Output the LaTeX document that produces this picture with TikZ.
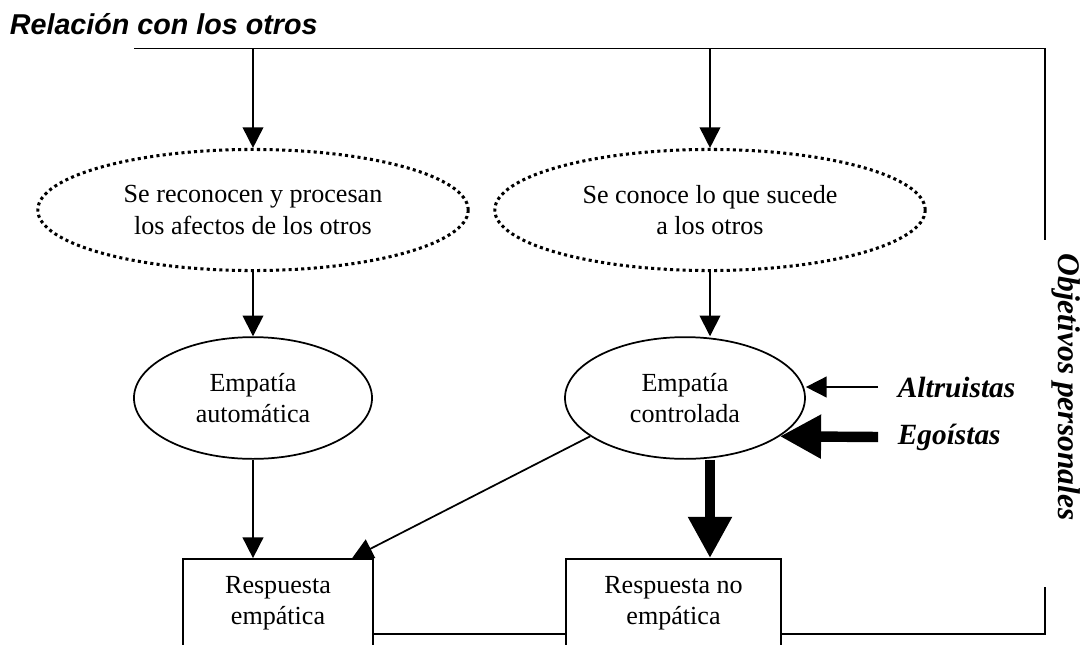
\documentclass[tikz,border=0pt]{standalone}
\usepackage{fontspec}
\setmainfont{Liberation Serif}
\newfontfamily\arialfont{Liberation Sans}
\usetikzlibrary{shapes.geometric,arrows.meta}

\begin{document}
\begin{tikzpicture}[x=0.46pt,y=-0.46pt,line width=0.8pt,
	txt/.style={align=center,font=\fontsize{12}{14.3}\selectfont,inner sep=0pt},
	dotell/.style={ellipse,draw,line width=1.4pt,dash pattern=on 1.4pt off 1.5pt,minimum width=198pt,minimum height=55.7pt,txt},
	ell/.style={ellipse,draw,minimum height=56pt,txt},
	resp/.style={rectangle,draw,minimum height=69pt},
	arr/.style={-{Triangle[length=9.5pt,width=9.5pt]}},
	bigarr/.style={line width=4.8pt,-{Triangle[length=19pt,width=19pt]}},
	objlab/.style={inner sep=0pt,font=\fontsize{13.5}{16}\selectfont\bfseries\itshape}]
	\useasboundingbox (0,0) rectangle (1083,644);
	\clip (0,0) rectangle (1083,644);

	\node[anchor=base west,inner sep=0pt,font=\arialfont\fontsize{13.2}{16}\selectfont\bfseries\itshape] (titulo) at (9,34) {Relación con los otros};

	\coordinate (topL) at (134,48.6);
	\coordinate (topR) at (1045,48.6);
	\coordinate (rgtU) at (1045,240);
	\coordinate (rgtD) at (1045,587);

	\node[dotell] (afect) at (253,210) {Se reconocen y procesan\\los afectos de los otros};
	\node[dotell] (sucede) at (710,210) {Se conoce lo que sucede\\a los otros};
	\node[ell,minimum width=109.5pt] (auto) at (253,398) {Empatía\\automática};
	\node[ell,minimum width=110.4pt] (contr) at (685,398) {Empatía\\controlada};
	\node[resp,minimum width=87.4pt] (remp) at (278,634) {};
	\node[resp,minimum width=99pt] (rnoemp) at (673.5,634) {};
	\node[txt] (rempt) at (278,603.5) {Respuesta\\empática};
	\node[txt] (rnoempt) at (673.5,603.5) {Respuesta no\\empática};
	\node[objlab,anchor=west] (altr) at (897,387) {Altruistas};
	\node[objlab,anchor=west] (egoi) at (897,437) {Egoístas};
	\node[objlab,font=\fontsize{14.5}{17}\selectfont\bfseries\itshape,rotate=-90] (objet) at (1066,387) {Objetivos personales};

	\draw (topL) -- (topR) -- (rgtU);
	\draw (rgtD) |- (rnoemp.east);
	\draw (remp.east) -- (rnoemp.west);
	\draw[arr] (afect.north |- topL) -- (afect.north);
	\draw[arr] (sucede.north |- topL) -- (sucede.north);
	\draw[arr] (afect.south) -- (auto.north);
	\draw[arr] (sucede.south) -- (sucede.south |- contr.north);
	\draw[arr] (auto.south) -- (auto.south |- remp.north);
	\draw[arr] (contr.202) -- ([xshift=-10pt]remp.north east);
	\draw[bigarr] (sucede.south |- contr.south) -- (sucede.south |- rnoemp.north);
	\draw[arr] ([xshift=-8.7pt]altr.west) -- (altr.west -| contr.east);
	\draw[bigarr] ([xshift=-8.7pt]egoi.west) -- (contr.-22.5);
\end{tikzpicture}
\end{document}
